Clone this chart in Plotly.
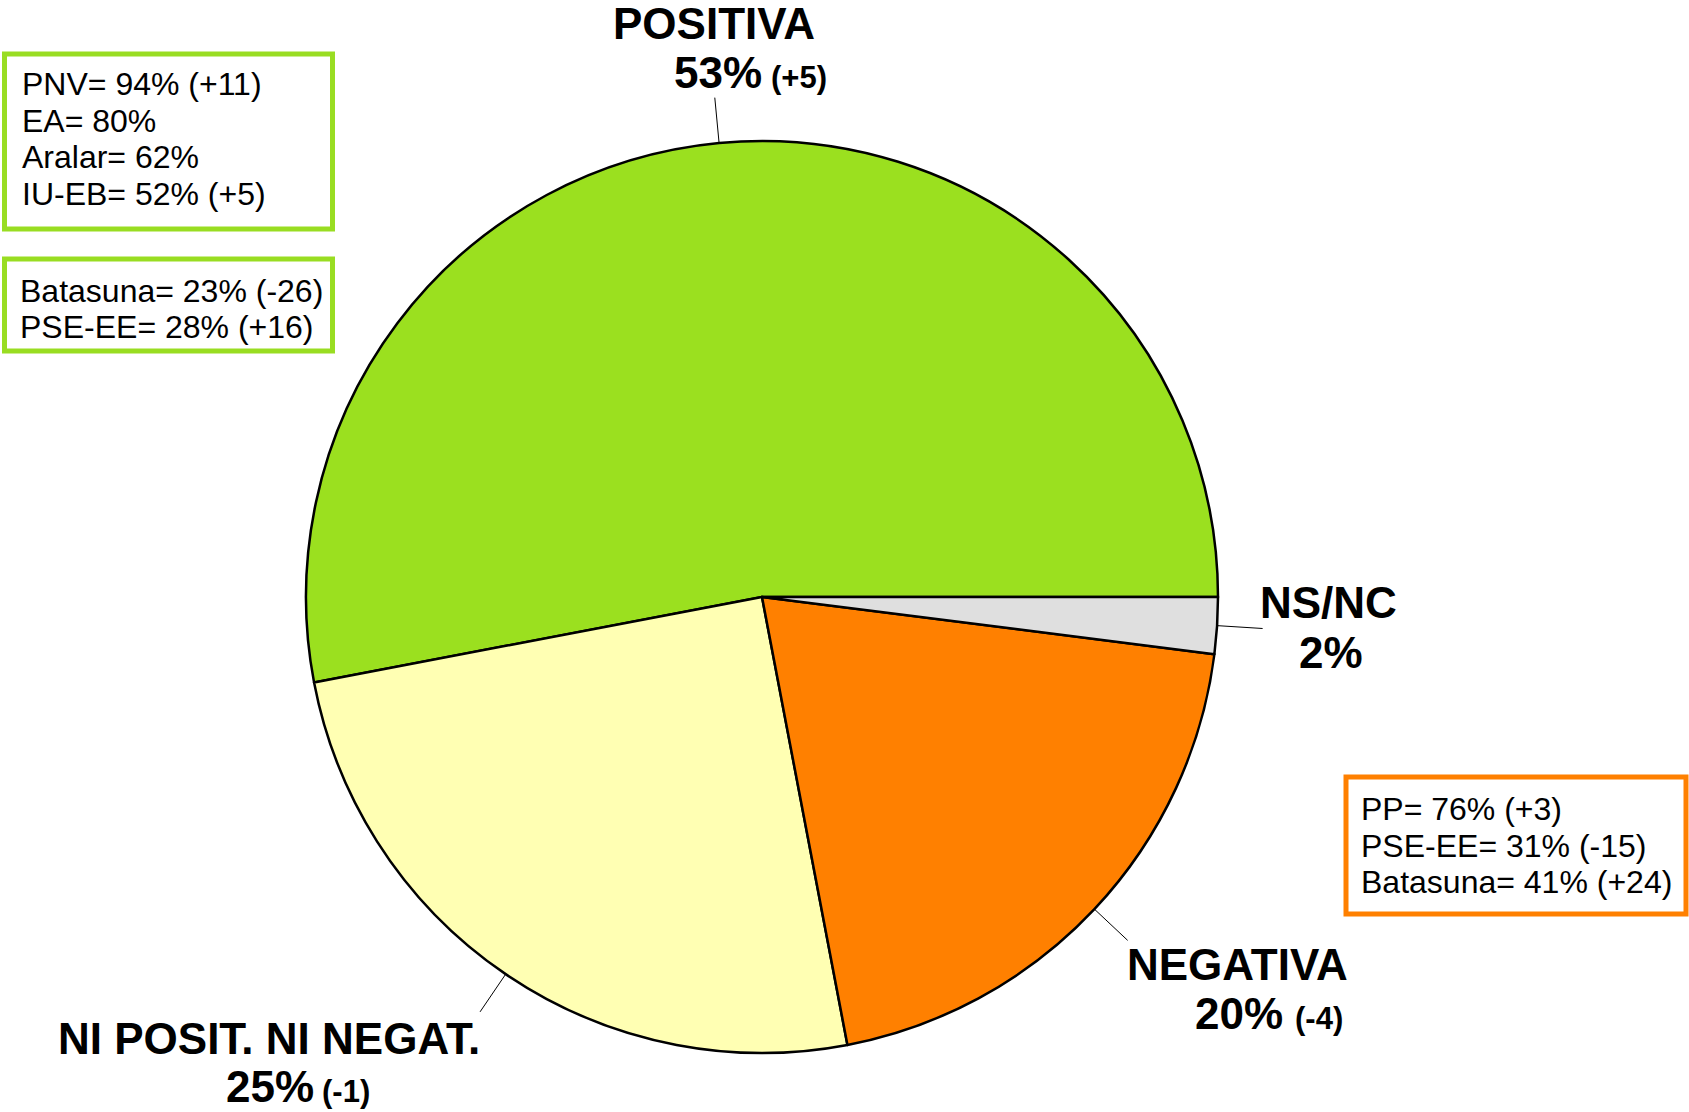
import math
import plotly.graph_objects as go

# ---- data ----
categories = ["POSITIVA", "NI POSIT. NI NEGAT.", "NEGATIVA", "NS/NC"]
values = [53, 25, 20, 2]
changes = ["(+5)", "(-1)", "(-4)", ""]
colors = ["#9BE01F", "#FFFFB3", "#FF8000", "#DFDFDF"]
positive_box1 = ["PNV= 94% (+11)", "EA= 80%", "Aralar= 62%", "IU-EB= 52% (+5)"]
positive_box2 = ["Batasuna= 23% (-26)", "PSE-EE= 28% (+16)"]
negative_box = ["PP= 76% (+3)", "PSE-EE= 31% (-15)", "Batasuna= 41% (+24)"]

W, H = 1689, 1112
CX, CY, R = 762, 597, 456
FONT = "Liberation Sans, Arial, sans-serif"


def px(x):
    return x / W


def py(y):
    return 1 - y / H


total = sum(values)
# first slice starts at 3 o'clock and runs counter-clockwise
rotation = 90 - values[0] / total * 360

fig = go.Figure()
fig.add_trace(go.Pie(
    labels=categories, values=values, sort=False,
    direction="counterclockwise", rotation=rotation,
    marker=dict(colors=colors, line=dict(color="black", width=2.5)),
    textinfo="none", hoverinfo="label+percent", showlegend=False,
    domain=dict(x=[px(CX - R), px(CX + R)], y=[py(CY + R), py(CY - R)]),
))

shapes = []
annotations = []

# leader lines computed from slice mid-angles
acc = 0
for v in values:
    mid = (acc + v / 2) / total * 2 * math.pi
    acc += v
    x0 = CX + R * math.cos(mid)
    y0 = CY - R * math.sin(mid)
    x1 = CX + R * 1.10 * math.cos(mid)
    y1 = CY - R * 1.10 * math.sin(mid)
    shapes.append(dict(type="line", xref="paper", yref="paper",
                       x0=px(x0), y0=py(y0), x1=px(x1), y1=py(y1),
                       line=dict(color="black", width=1)))

# label layout: (name center x, name baseline, pct left x, pct baseline, change left x)
label_pos = [
    (714, 39, 672, 88, 769),
    (269, 1054, 224, 1102, 320),
    (1237, 980, 1193, 1029, 1293),
    (1328, 618, 1297, 668, None),
]
BIG, SMALL = 44, 31
for cat, v, ch, pos in zip(categories, values, changes, label_pos):
    nx, nb, pxl, pb, cx = pos
    annotations.append(dict(text="<b>%s</b>" % cat, x=px(nx), y=py(nb - 0.35 * BIG),
                            xanchor="center", yanchor="middle", showarrow=False,
                            font=dict(size=BIG, color="black", family=FONT)))
    annotations.append(dict(text="<b>%d%%</b>" % v, x=px(pxl), y=py(pb - 0.35 * BIG),
                            xanchor="left", yanchor="middle", showarrow=False,
                            font=dict(size=BIG, color="black", family=FONT)))
    if ch and cx is not None:
        annotations.append(dict(text="<b>%s</b>" % ch, x=px(cx), y=py(pb - 0.35 * SMALL),
                                xanchor="left", yanchor="middle", showarrow=False,
                                font=dict(size=SMALL, color="black", family=FONT)))

# boxes
BOXF = 32
box_specs = [
    (positive_box1, (4.5, 54, 332.5, 229), "#99DD22", 20, 95, 36.7),
    (positive_box2, (4.5, 259, 332.5, 351), "#99DD22", 18, 302, 36.5),
    (negative_box, (1346, 777, 1686, 914), "#FF8000", 1359, 820, 36.7),
]
for lines, rect, col, tx, tb, lh in box_specs:
    x0, y0, x1, y1 = rect
    shapes.append(dict(type="rect", xref="paper", yref="paper",
                       x0=px(x0), y0=py(y0), x1=px(x1), y1=py(y1),
                       line=dict(color=col, width=5), fillcolor="white", layer="below"))
    for i, t in enumerate(lines):
        b = tb + i * lh
        annotations.append(dict(text=t, x=px(tx), y=py(b - 0.35 * BOXF),
                                xanchor="left", yanchor="middle", showarrow=False,
                                font=dict(size=BOXF, color="black", family=FONT)))

fig.update_layout(
    width=W, height=H, margin=dict(l=0, r=0, t=0, b=0),
    paper_bgcolor="white", plot_bgcolor="white",
    shapes=shapes, annotations=annotations,
)
fig.write_html("out.html", config={"displayModeBar": False},
               post_script="document.body.style.margin='0px';")
